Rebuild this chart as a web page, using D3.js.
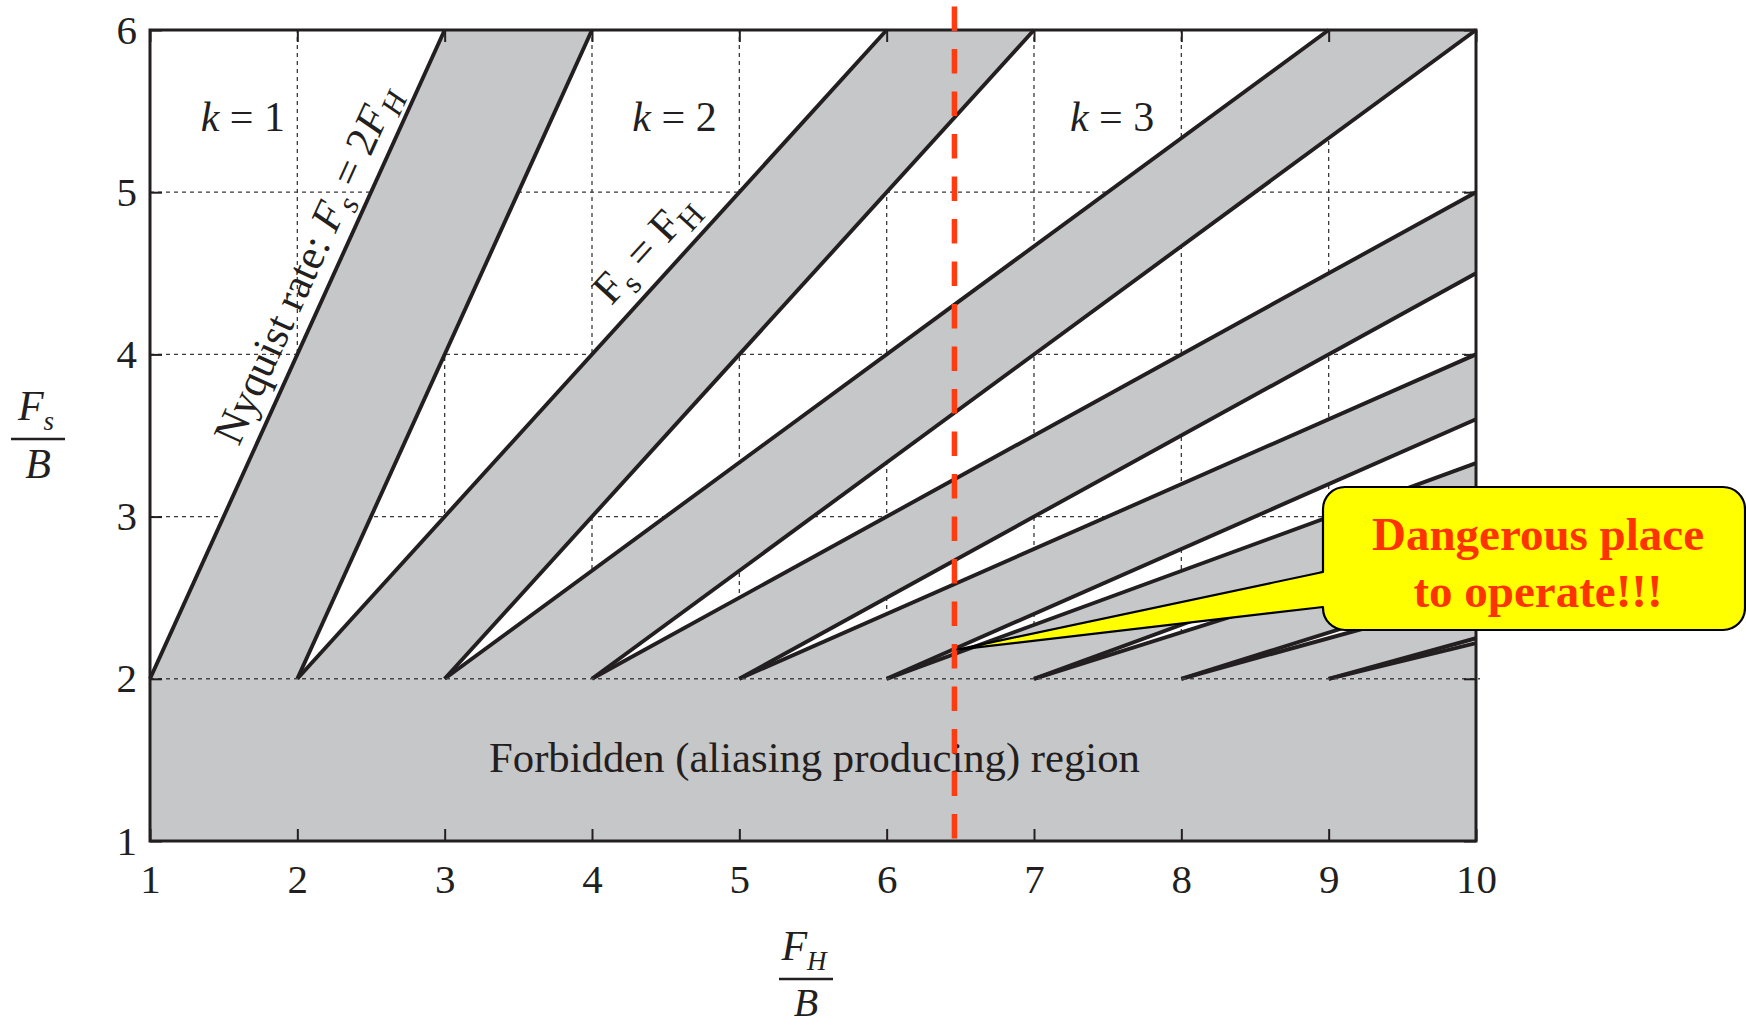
<!DOCTYPE html>
<html>
<head>
<meta charset="utf-8">
<script src="https://cdn.jsdelivr.net/npm/d3@7"></script>
<style>
  body { margin: 0; background: #fff; }
  svg { display: block; font-family: "Liberation Serif", "Times New Roman", serif; }
</style>
</head>
<body>
<svg id="chart" width="1746" height="1027"></svg>
<script>
// axis ticks
var xTicks = [1, 2, 3, 4, 5, 6, 7, 8, 9, 10];
var yTicks = [1, 2, 3, 4, 5, 6];

// forbidden bands, n = 1..9 : between Fs = 2FH/n (upper) and Fs = 2(FH-B)/n (lower)
var bandN      = [1, 2, 3, 4, 5, 6, 7, 8, 9];
var upperStart = [1, 2, 3, 4, 5, 6, 7, 8, 9];          // FH/B where the line leaves Fs/B = 2
var upperEndX  = [3, 6, 9, 10, 10, 10, 10, 10, 10];
var upperEndY  = [6, 6, 6, 5, 4, 3.33, 2.86, 2.5, 2.22];
var lowerStart = [2, 3, 4, 5, 6, 7, 8, 9, 10];
var lowerEndX  = [4, 7, 10, 10, 10, 10, 10, 10, 10];
var lowerEndY  = [6, 6, 6, 4.5, 3.6, 3.0, 2.57, 2.25, 2];

var operatingFH = 6.46;          // red dashed marker
var dangerPoint = [6.48, 2.18];  // callout tip

var svg = d3.select("#chart");
var ink = "#231f20", shade = "#c6c7c9";

var x = d3.scaleLinear().domain([1, 10]).range([150, 1476]);
var y = d3.scaleLinear().domain([1, 6]).range([841, 30]);

// grid
var grid = svg.append("g")
	.attr("stroke", "#3a3a3a").attr("stroke-width", 1.3).attr("stroke-dasharray", "4,4");
grid.selectAll(".vg").data(xTicks.slice(1, -1)).enter().append("line")
	.attr("x1", function(d){ return x(d); }).attr("x2", function(d){ return x(d); })
	.attr("y1", y(1)).attr("y2", y(6));
grid.selectAll(".hg").data(yTicks.slice(2, -1)).enter().append("line")
	.attr("x1", x(1)).attr("x2", x(10))
	.attr("y1", function(d){ return y(d); }).attr("y2", function(d){ return y(d); });

// forbidden region under Fs/B = 2
svg.append("rect")
	.attr("x", x(1)).attr("y", y(2))
	.attr("width", x(10) - x(1)).attr("height", y(1) - y(2))
	.attr("fill", shade);

// the gray wedges
var bands = bandN.map(function(n, i){
	return [[upperStart[i], 2], [upperEndX[i], upperEndY[i]], [lowerEndX[i], lowerEndY[i]], [lowerStart[i], 2]];
});
svg.append("g").selectAll("polygon").data(bands).enter().append("polygon")
	.attr("points", function(d){ return d.map(function(p){ return x(p[0]) + "," + y(p[1]); }).join(" "); })
	.attr("fill", shade);

// boundary lines
var lines = [];
bandN.forEach(function(n, i){
	lines.push([[upperStart[i], 2], [upperEndX[i], upperEndY[i]]]);
	if (lowerStart[i] < 10) lines.push([[lowerStart[i], 2], [lowerEndX[i], lowerEndY[i]]]);
});
svg.append("g").selectAll("line").data(lines).enter().append("line")
	.attr("x1", function(d){ return x(d[0][0]); }).attr("y1", function(d){ return y(d[0][1]); })
	.attr("x2", function(d){ return x(d[1][0]); }).attr("y2", function(d){ return y(d[1][1]); })
	.attr("stroke", ink).attr("stroke-width", 3.9).attr("stroke-linecap", "butt");

// Fs/B = 2 dashed border
svg.append("line")
	.attr("x1", x(1)).attr("x2", x(10) + 4)
	.attr("y1", y(2)).attr("y2", y(2))
	.attr("stroke", "#444").attr("stroke-width", 1.4).attr("stroke-dasharray", "4,4");

// axes (MATLAB style inward ticks)
function styleAxis(g){
	g.select(".domain").remove();
	g.selectAll(".tick line").attr("stroke", ink).attr("stroke-width", 2);
	g.selectAll("text").attr("fill", ink).attr("font-size", 41)
		.attr("font-family", "Liberation Serif, Times New Roman, serif");
}
svg.append("g").attr("transform", "translate(0," + y(1) + ")")
	.call(d3.axisBottom(x).tickValues(xTicks).tickSize(-12).tickSizeOuter(0).tickPadding(23).tickFormat(d3.format("d")))
	.call(styleAxis);
svg.append("g").attr("transform", "translate(" + x(1) + ",0)")
	.call(d3.axisLeft(y).tickValues(yTicks).tickSize(-12).tickSizeOuter(0).tickPadding(13).tickFormat(d3.format("d")))
	.call(styleAxis);
svg.append("g").attr("transform", "translate(0," + y(6) + ")")
	.call(d3.axisTop(x).tickValues(xTicks).tickSize(-12).tickSizeOuter(0).tickFormat(""))
	.call(styleAxis);
svg.append("g").attr("transform", "translate(" + x(10) + ",0)")
	.call(d3.axisRight(y).tickValues(yTicks).tickSize(-12).tickSizeOuter(0).tickFormat(""))
	.call(styleAxis);

svg.append("rect")
	.attr("x", x(1)).attr("y", y(6))
	.attr("width", x(10) - x(1)).attr("height", y(1) - y(6))
	.attr("fill", "none").attr("stroke", ink).attr("stroke-width", 3);

// k labels
var kText = svg.append("g").attr("fill", ink).attr("font-size", 42).attr("text-anchor", "middle");
[[1, 1.63], [2, 4.56], [3, 7.53]].forEach(function(k){
	var t = kText.append("text").attr("x", x(k[1])).attr("y", y(5.38));
	t.append("tspan").attr("font-style", "italic").text("k");
	t.append("tspan").text(" = " + k[0]);
});

// labels along the lines
function lineLabel(x0, y0, x1, y1, at, off, size, italic, parts){
	var ang = Math.atan2(y(y1) - y(y0), x(x1) - x(x0)) * 180 / Math.PI;
	var px = x(at), py = y(y0 + (y1 - y0) * (at - x0) / (x1 - x0));
	var t = svg.append("text")
		.attr("transform", "translate(" + px + "," + py + ") rotate(" + ang + ")")
		.attr("y", -off).attr("text-anchor", "middle")
		.attr("font-size", size).attr("fill", ink);
	parts.forEach(function(p){
		var s = t.append("tspan").text(p[0]);
		if (p[1] == "i" && italic) s.attr("font-style", "italic");
		if (p[2] == "sub") s.attr("font-size", size * 0.72).attr("dy", size * 0.22);
		if (p[2] == "up") s.attr("dy", -size * 0.22);
	});
}
lineLabel(1, 2, 3, 6, 2.24, 15, 43, true, [
	["Nyquist rate: "], ["F", "i"], ["s", "i", "sub"], [" = 2", "", "up"], ["F", "i"], ["H", "i", "sub"]
]);
lineLabel(2, 2, 6, 6, 4.52, 18, 44, false, [
	["F", "i"], ["s", "i", "sub"], [" = ", "", "up"], ["F", "i"], ["H", "i", "sub"]
]);

svg.append("text")
	.attr("x", x(5.51)).attr("y", y(1.5) + 12)
	.attr("text-anchor", "middle").attr("font-size", 42.7).attr("fill", ink)
	.text("Forbidden (aliasing producing) region");

// axis titles as fractions
function fraction(cx, barY, sub, bSize, bGap){
	var g = svg.append("g").attr("fill", ink).attr("font-style", "italic").attr("font-size", 42);
	var top = g.append("text").attr("x", cx - 2).attr("y", barY - 19).attr("text-anchor", "middle");
	top.append("tspan").text("F");
	top.append("tspan").attr("font-size", 27).attr("dy", 10).text(sub);
	g.append("line").attr("x1", cx - 27).attr("x2", cx + 27).attr("y1", barY).attr("y2", barY)
		.attr("stroke", ink).attr("stroke-width", 2.6);
	g.append("text").attr("x", cx).attr("y", barY + bGap).attr("font-size", bSize)
		.attr("text-anchor", "middle").text("B");
}
fraction(38, 439, "s", 42, 39);
fraction(806, 979, "H", 40, 37);

// red dashed operating line
svg.append("line")
	.attr("x1", x(operatingFH)).attr("x2", x(operatingFH))
	.attr("y1", y(6) - 23.5).attr("y2", y(1))
	.attr("stroke", "#ff3b0f").attr("stroke-width", 5.5).attr("stroke-dasharray", "24.5,18");

// callout
var bx0 = 1323, bx1 = 1745, by0 = 487, by1 = 630, r = 22;
var tip = [x(dangerPoint[0]), y(dangerPoint[1])];
var path = d3.path();
path.moveTo(bx0 + r, by0);
path.lineTo(bx1 - r, by0);
path.arcTo(bx1, by0, bx1, by0 + r, r);
path.lineTo(bx1, by1 - r);
path.arcTo(bx1, by1, bx1 - r, by1, r);
path.lineTo(bx0 + r, by1);
path.arcTo(bx0, by1, bx0, by1 - r, r);
path.lineTo(bx0, 607);
path.lineTo(tip[0], tip[1]);
path.lineTo(bx0, 572);
path.lineTo(bx0, by0 + r);
path.arcTo(bx0, by0, bx0 + r, by0, r);
path.closePath();
svg.append("path").attr("d", path.toString())
	.attr("fill", "#ffff00").attr("stroke", "#000").attr("stroke-width", 2.2).attr("stroke-linejoin", "round");

var ct = svg.append("g").attr("fill", "#ff3300").attr("font-weight", "bold")
	.attr("font-size", 47).attr("text-anchor", "middle");
ct.append("text").attr("x", 1538).attr("y", 550).text("Dangerous place");
ct.append("text").attr("x", 1538).attr("y", 607).text("to operate!!!");
</script>
</body>
</html>
